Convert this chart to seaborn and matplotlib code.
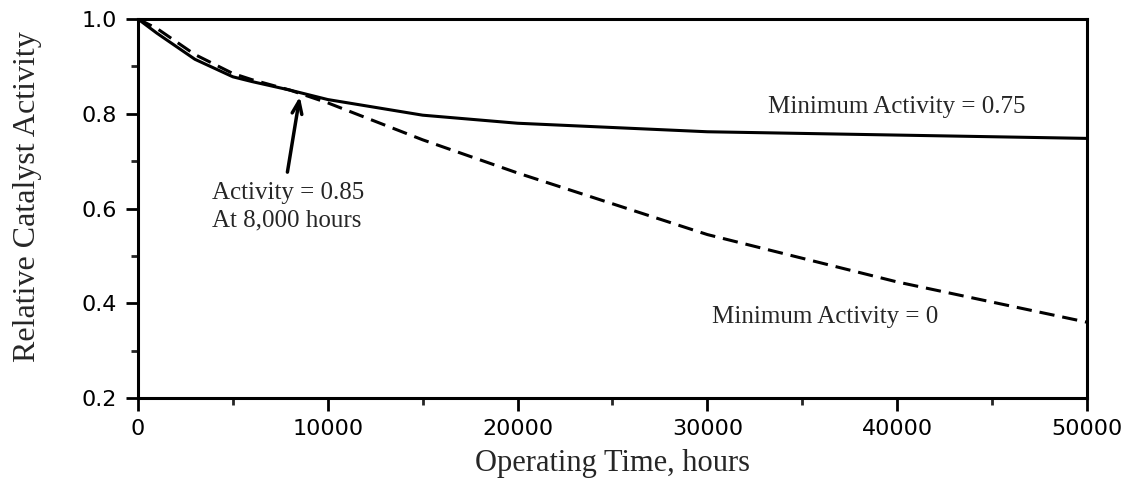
import numpy as np
import pandas as pd
import matplotlib
matplotlib.use("Agg")
import matplotlib.pyplot as plt
import seaborn as sns
from matplotlib.ticker import MultipleLocator

# Data
hours_solid = [0, 1000, 3000, 5000, 6000, 8000, 10000, 15000, 20000, 30000, 40000, 50000]
activity_solid = [1.0, 0.97, 0.915, 0.878, 0.868, 0.85, 0.83, 0.797, 0.78, 0.762, 0.755, 0.748]
hours_dashed = [0, 1000, 3000, 5000, 6000, 8000, 10000, 15000, 20000, 30000, 40000, 50000]
activity_dashed = [1.0, 0.98, 0.925, 0.885, 0.872, 0.85, 0.823, 0.745, 0.675, 0.545, 0.445, 0.36]
series_names = ["Minimum Activity = 0.75", "Minimum Activity = 0"]

df = pd.concat([
    pd.DataFrame({"hours": hours_solid, "activity": activity_solid, "case": series_names[0]}),
    pd.DataFrame({"hours": hours_dashed, "activity": activity_dashed, "case": series_names[1]}),
])

sns.set_style("ticks")
plt.rcParams["font.family"] = ["DejaVu Sans"]

fig = plt.figure(figsize=(11.29, 4.8), dpi=100)
ax = fig.add_axes([0.1222, 0.1708, 0.8406, 0.7896])

sns.lineplot(data=df, x="hours", y="activity", style="case", hue="case",
             palette=["black", "black"], dashes={series_names[0]: "", series_names[1]: (5, 2.6)},
             linewidth=2.2, legend=False, ax=ax, sort=False)

ax.set_xlim(0, 50000)
ax.set_ylim(0.2, 1.0)
ax.xaxis.set_major_locator(MultipleLocator(10000))
ax.xaxis.set_minor_locator(MultipleLocator(5000))
ax.yaxis.set_major_locator(MultipleLocator(0.2))
ax.yaxis.set_minor_locator(MultipleLocator(0.1))
ax.yaxis.set_major_formatter(matplotlib.ticker.FormatStrFormatter("%.1f"))

for sp in ax.spines.values():
    sp.set_linewidth(2.2)
    sp.set_color("black")
    sp.set_visible(True)

ax.tick_params(axis="both", which="major", direction="out", length=9, width=2,
               labelsize=16, colors="black")
ax.tick_params(axis="both", which="minor", direction="out", length=5, width=2)
ax.tick_params(top=False, right=False, which="both")
ax.tick_params(axis="x", which="major", pad=6)
ax.tick_params(axis="y", which="major", pad=6)

serif = ["Liberation Serif", "DejaVu Serif"]
ax.set_xlabel("Operating Time, hours", fontsize=22, family=serif)
ax.xaxis.set_label_coords(0.5, -0.134)
ax.set_ylabel("Relative Catalyst Activity", fontsize=23, family=serif)
ax.yaxis.set_label_coords(-0.101, 0.532)

ax.text(40000, 0.814, "Minimum Activity = 0.75", fontsize=18, family=serif,
        ha="center", va="center")
ax.text(36200, 0.371, "Minimum Activity = 0", fontsize=18, family=serif,
        ha="center", va="center")
ax.text(3900, 0.656, "Activity = 0.85\nAt 8,000 hours", fontsize=18, family=serif,
        ha="left", va="top", linespacing=1.3)
ax.annotate("", xy=(8550, 0.842), xytext=(7850, 0.671),
            arrowprops=dict(arrowstyle="->,head_length=0.9,head_width=0.35",
                            color="black", lw=2.5))

fig.savefig("out.png", dpi=100)
